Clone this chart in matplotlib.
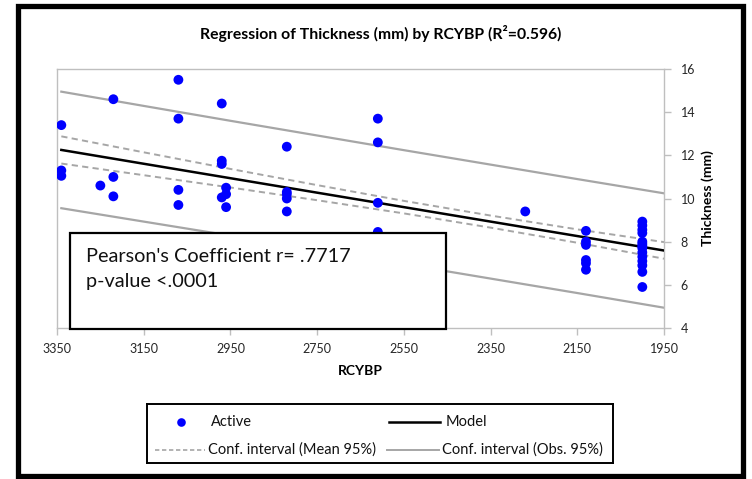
import numpy as np
import matplotlib
matplotlib.use("Agg")
import matplotlib.pyplot as plt
from matplotlib.lines import Line2D
from matplotlib.patches import Rectangle

plt.rcParams['font.family'] = ['Lato', 'DejaVu Sans']

# Radiocarbon years before present and shell thickness (mm)
rcybp = [3340, 3340, 3340,
         3250,
         3220, 3220, 3220,
         3070, 3070, 3070, 3070,
         2970, 2970, 2970, 2970,
         2960, 2960, 2960,
         2820, 2820, 2820, 2820, 2820,
         2610, 2610, 2610, 2610, 2610,
         2270,
         2130, 2130, 2130, 2130, 2130, 2130,
         2000, 2000, 2000, 2000, 2000, 2000, 2000,
         2000, 2000, 2000, 2000, 2000, 2000, 2000]
thickness = [13.4, 11.3, 11.05,
             10.6,
             14.6, 11.0, 10.1,
             15.5, 13.7, 10.4, 9.7,
             14.4, 11.75, 11.6, 10.05,
             10.5, 10.2, 9.6,
             12.4, 10.3, 10.2, 10.0, 9.4,
             13.7, 12.6, 9.8, 8.45, 8.1,
             9.4,
             8.5, 8.0, 7.85, 7.15, 7.0, 6.7,
             8.93, 8.75, 8.55, 8.4, 8.0, 7.9, 7.8,
             7.7, 7.5, 7.3, 7.1, 6.9, 6.6, 5.9]

# Fitted model and its 95% bands, sampled along RCYBP
band_x = [3340, 3150, 2950, 2750, 2550, 2350, 2150, 1950]
model_y = [12.25, 11.61, 10.94, 10.27, 9.60, 8.93, 8.26, 7.59]
mean_upper = [12.88, 12.14, 11.37, 10.62, 9.89, 9.21, 8.57, 7.98]
mean_lower = [11.62, 11.08, 10.51, 9.92, 9.31, 8.65, 7.95, 7.21]
obs_upper = [14.95, 14.29, 13.60, 12.92, 12.24, 11.57, 10.90, 10.24]
obs_lower = [9.55, 8.93, 8.28, 7.62, 6.96, 6.29, 5.62, 4.94]

x_ticks = [3350, 3150, 2950, 2750, 2550, 2350, 2150, 1950]
y_ticks = [4, 6, 8, 10, 12, 14, 16]

r_squared_label = "0.596"
pearson_label = ".7717"
p_label = "<.0001"

W, H = 752, 479
fig = plt.figure(figsize=(W / 100, H / 100), dpi=100)

def fx(px):
    return px / W

def fy(py):
    return 1 - py / H

ax = fig.add_axes([fx(57), fy(328), fx(664) - fx(57), fy(69) - fy(328)])

grey = '#BFBFBF'
band_grey = '#A6A6A6'
dash = (0, (3.2, 2.2))
ax.plot(band_x, obs_upper, color=band_grey, lw=1.6, zorder=2)
ax.plot(band_x, obs_lower, color=band_grey, lw=1.6, zorder=2)
ax.plot(band_x, mean_upper, color=band_grey, lw=1.4, ls=dash, zorder=2)
ax.plot(band_x, mean_lower, color=band_grey, lw=1.4, ls=dash, zorder=2)
ax.plot(band_x, model_y, color='black', lw=1.8, zorder=3)
ax.scatter(rcybp, thickness, s=50, color='#0000FF', edgecolors='none', zorder=4)

ax.set_xlim(3350, 1950)
ax.set_ylim(4, 16)
ax.set_xticks(x_ticks)
ax.set_yticks(y_ticks)
ax.yaxis.tick_right()
ax.yaxis.set_label_position('right')
for sp in ax.spines.values():
    sp.set_color(grey)
    sp.set_linewidth(1.0)
ax.tick_params(axis='both', colors=grey, length=5, width=1.0, labelcolor='#262626',
               labelsize=9)
ax.tick_params(axis='x', pad=6)
ax.tick_params(axis='y', pad=7)
ax.set_xlabel('RCYBP', fontsize=10, fontweight='bold', labelpad=7)
ax.set_ylabel('Thickness (mm)', fontsize=10, fontweight='bold', labelpad=4)

fig.text(fx(381), fy(33), f'Regression of Thickness (mm) by RCYBP (R\u00b2={r_squared_label})',
         ha='center', va='center', fontsize=11.3, fontweight='bold')

# Annotation box with correlation statistics
fig.patches.append(Rectangle((fx(70), fy(329)), fx(446) - fx(70), fy(233) - fy(329),
                             transform=fig.transFigure, fill=True, facecolor='white',
                             edgecolor='black', lw=1.6, zorder=5))
fig.text(fx(86), fy(256), f"Pearson's Coefficient r= {pearson_label}", ha='left', va='center',
         fontsize=14.3, color='#111111', zorder=6)
fig.text(fx(86), fy(282), f"p-value {p_label}", ha='left', va='center',
         fontsize=14.3, color='#111111', zorder=6)

# Legend panel laid out in pixel units
lax = fig.add_axes([fx(147), fy(463), fx(613) - fx(147), fy(404) - fy(463)])
lax.set_xlim(147, 613)
lax.set_ylim(463, 404)
lax.set_xticks([])
lax.set_yticks([])
for sp in lax.spines.values():
    sp.set_color('black')
    sp.set_linewidth(1.4)
row1, row2 = 422, 450
lax.plot([180.5], [row1], ls='none', marker='o', color='#0000FF', markersize=6.2,
         markeredgewidth=0)
lax.plot([389, 440], [row1, row1], color='black', lw=1.8)
lax.plot([155, 205], [row2, row2], color=band_grey, lw=1.2, ls=(0, (2.6, 1.6)))
lax.plot([387, 439], [row2, row2], color=band_grey, lw=1.4)
lfs = 10.5
lax.text(211, row1, 'Active', ha='left', va='center', fontsize=lfs, color='#111111')
lax.text(446, row1, 'Model', ha='left', va='center', fontsize=lfs, color='#111111')
lax.text(208, row2, 'Conf. interval (Mean 95%)', ha='left', va='center', fontsize=lfs,
         color='#111111')
lax.text(442, row2, 'Conf. interval (Obs. 95%)', ha='left', va='center', fontsize=lfs,
         color='#111111')

# Outer frame
fig.patches.append(Rectangle((fx(17.5), fy(476)), fx(742.5) - fx(17.5), fy(5.5) - fy(476),
                             transform=fig.transFigure, fill=False,
                             edgecolor='black', lw=3.8))

fig.savefig('out.png', dpi=100)
